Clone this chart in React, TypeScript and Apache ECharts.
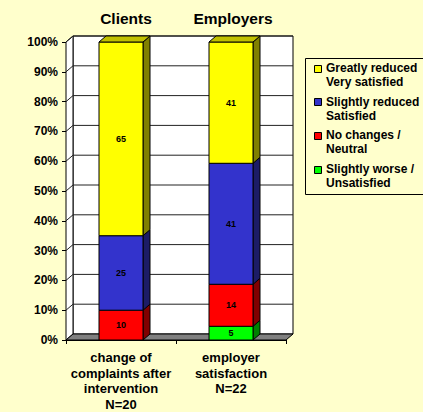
import React, { useEffect, useRef } from 'react';
import * as echarts from 'echarts';

// ---- data ----
const categories = [
  'change of\ncomplaints after\nintervention\nN=20',
  'employer\nsatisfaction\nN=22',
];
const panelTitles = ['Clients', 'Employers'];
// stacked bottom -> top
const seriesNames = [
  'Slightly worse /\nUnsatisfied',
  'No changes /\nNeutral',
  'Slightly reduced\nSatisfied',
  'Greatly reduced\nVery satisfied',
];
const slightlyWorse = [0, 4.6];
const noChanges = [10, 14.1];
const slightlyReduced = [25, 40.6];
const greatlyReduced = [65, 40.7];
const yTickValues = [0, 10, 20, 30, 40, 50, 60, 70, 80, 90, 100];

// ---- style ----
const FONT = '"Liberation Sans", Arial, sans-serif';
const BG = '#FFFFCC';
const faceColors = ['#00FF00', '#FF0000', '#3333CC', '#FFFF00'];
const sideColors = ['#008000', '#800000', '#1C1C66', '#808000'];
const topColors = ['#00C000', '#C00000', '#262699', '#C0C000'];
const DX = 7;
const DY = 6;

export default function App() {
  const ref = useRef<HTMLDivElement>(null);

  useEffect(() => {
    if (!ref.current) return;
    const chart = echarts.init(ref.current, undefined, { renderer: 'svg' });

    const allSeries = [slightlyWorse, noChanges, slightlyReduced, greatlyReduced];
    const bases = categories.map(() => 0);
    const barSeries = allSeries.map((vals, s) => {
      const data = categories.map((_, i) => {
        const lo = bases[i];
        const hi = lo + vals[i];
        bases[i] = hi;
        let isTop = 1;
        for (let k = s + 1; k < allSeries.length; k++) if (allSeries[k][i] > 0) isTop = 0;
        return [i, lo, hi, vals[i], isTop];
      });
      return {
        type: 'custom',
        name: seriesNames[s],
        data,
        encode: { x: 0, y: [1, 2] },
        z: 3,
        renderItem: (params: any, api: any) => {
          const i = api.value(0);
          const lo = api.value(1);
          const hi = api.value(2);
          const v = api.value(3);
          const isTop = api.value(4);
          if (!(v > 0)) return null;
          const pLo = api.coord([i, lo]);
          const pHi = api.coord([i, hi]);
          const w = api.size([1, 0])[0] * 0.4;
          const xl = pLo[0] - w / 2;
          const xr = pLo[0] + w / 2;
          const yb = pLo[1];
          const yt = pHi[1];
          const children: any[] = [
            {
              type: 'polygon',
              shape: { points: [[xr, yb], [xr + DX, yb - DY], [xr + DX, yt - DY], [xr, yt]] },
              style: { fill: sideColors[s], stroke: '#000', lineWidth: 1 },
            },
            {
              type: 'rect',
              shape: { x: xl, y: yt, width: w, height: yb - yt },
              style: { fill: faceColors[s], stroke: '#000', lineWidth: 1 },
            },
          ];
          if (isTop) {
            children.push({
              type: 'polygon',
              shape: { points: [[xl, yt], [xl + DX, yt - DY], [xr + DX, yt - DY], [xr, yt]] },
              style: { fill: topColors[s], stroke: '#000', lineWidth: 1 },
            });
          }
          children.push({
            type: 'text',
            x: pLo[0],
            y: (yb + yt) / 2,
            style: {
              text: String(Math.round(v)),
              font: `bold 9px ${FONT}`,
              fill: '#000',
              align: 'center',
              verticalAlign: 'middle',
            },
          });
          return { type: 'group', children };
        },
      };
    });

    const wallSeries = {
      type: 'custom',
      name: 'walls',
      data: [[0, 0]],
      z: 1,
      silent: true,
      renderItem: (params: any, api: any) => {
        const cs = params.coordSys;
        const x0 = cs.x;
        const x1 = cs.x + cs.width;
        const yT = cs.y;
        const yB = cs.y + cs.height;
        const children: any[] = [];
        children.push({
          type: 'polygon',
          shape: { points: [[x0 + DX, yT - DY], [x1 + DX, yT - DY], [x1 + DX, yB - DY], [x0 + DX, yB - DY]] },
          style: { fill: '#FFFFFF', stroke: '#000', lineWidth: 1 },
        });
        children.push({
          type: 'polygon',
          shape: { points: [[x0, yT], [x0 + DX, yT - DY], [x0 + DX, yB - DY], [x0, yB]] },
          style: { fill: '#FFFFFF', stroke: '#000', lineWidth: 1 },
        });
        yTickValues.forEach((v) => {
          if (v === 0) return;
          const y = api.coord([0, v])[1];
          children.push({
            type: 'polyline',
            shape: { points: [[x0, y], [x0 + DX, y - DY], [x1 + DX, y - DY]] },
            style: { stroke: '#222', fill: null, lineWidth: 1 },
          });
        });
        children.push({
          type: 'polygon',
          shape: { points: [[x0, yB], [x0 + DX, yB - DY], [x1 + DX, yB - DY], [x1, yB]] },
          style: { fill: '#808080', stroke: '#000', lineWidth: 1 },
        });
        return { type: 'group', children };
      },
    };

    // legend (top to bottom: reverse of stacking)
    const legendChildren: any[] = [
      {
        type: 'rect',
        shape: { x: 305.5, y: 58.5, width: 130, height: 136 },
        style: { fill: BG, stroke: '#000', lineWidth: 1 },
      },
    ];
    [3, 2, 1, 0].forEach((s, k) => {
      const fy = 68 + k * 33.7;
      legendChildren.push({
        type: 'rect',
        shape: { x: 314.5, y: Math.round(fy - 3.5) + 0.5, width: 7, height: 7 },
        style: { fill: faceColors[s], stroke: '#000', lineWidth: 1 },
      });
      legendChildren.push({
        type: 'text',
        x: 326,
        y: fy - 7,
        style: {
          text: seriesNames[s],
          font: `bold 12px ${FONT}`,
          fill: '#000',
          align: 'left',
          verticalAlign: 'top',
          lineHeight: 14,
        },
      });
    });

    const titleGraphics = panelTitles.map((t, i) => ({
      type: 'text',
      x: i === 0 ? 126 : 233,
      y: 18,
      style: {
        text: t,
        font: `bold 15.5px ${FONT}`,
        fill: '#000',
        align: 'center',
        verticalAlign: 'middle',
      },
    }));

    chart.setOption({
      animation: false,
      backgroundColor: BG,
      grid: { left: 66, right: 137, top: 42, bottom: 70, containLabel: false },
      xAxis: {
        type: 'category',
        data: categories,
        axisLine: { show: true, lineStyle: { color: '#000', width: 1 } },
        axisTick: { show: true, length: 4, lineStyle: { color: '#000' } },
        axisLabel: {
          interval: 0,
          margin: 10,
          color: '#000',
          fontFamily: FONT,
          fontWeight: 'bold',
          fontSize: 13,
          lineHeight: 15.5,
          align: 'center',
        },
        splitLine: { show: false },
      },
      yAxis: {
        type: 'value',
        min: 0,
        max: 100,
        interval: 10,
        axisLine: { show: true, lineStyle: { color: '#000', width: 1 } },
        axisTick: { show: true, length: 4, lineStyle: { color: '#000' } },
        axisLabel: {
          formatter: '{value}%',
          margin: 8,
          color: '#000',
          fontFamily: FONT,
          fontWeight: 'bold',
          fontSize: 12,
        },
        splitLine: { show: false },
      },
      graphic: [...titleGraphics, { type: 'group', children: legendChildren }],
      series: [wallSeries, ...barSeries],
    });

    return () => chart.dispose();
  }, []);

  return (
    <div
      ref={ref}
      style={{ position: 'fixed', left: 0, top: 0, width: 423, height: 412, background: BG }}
    />
  );
}
